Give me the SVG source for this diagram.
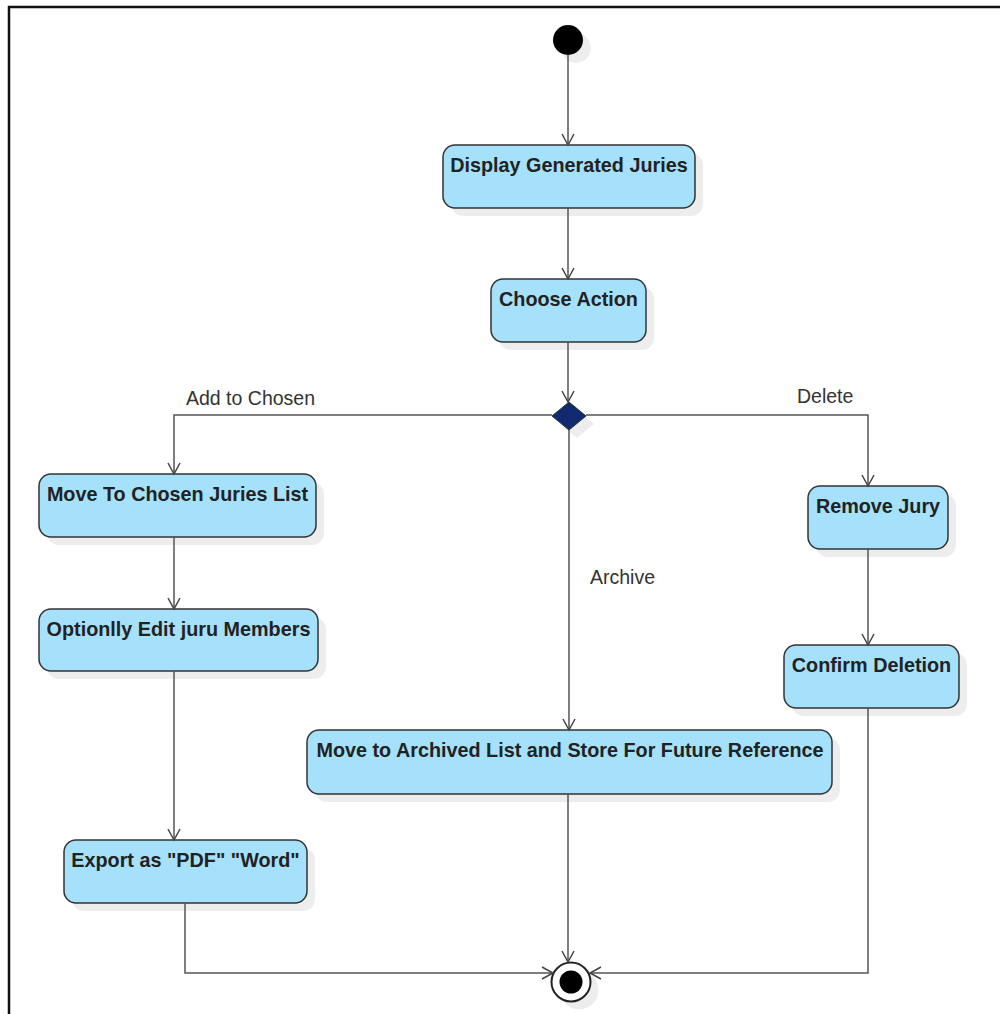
<svg xmlns="http://www.w3.org/2000/svg" width="1000" height="1014" viewBox="0 0 1000 1014">
<defs>
<style>
.box{fill:#a6e1fc;stroke:#333;stroke-width:1.5}
.sh{fill:#000;opacity:0.07}
.t{font-family:"Liberation Sans",Arial,sans-serif;font-size:19.8px;font-weight:bold;fill:#222;text-anchor:middle}
.lbl{font-family:"Liberation Sans",Arial,sans-serif;font-size:19.5px;fill:#333}
.c{fill:none;stroke:#555;stroke-width:1.5}
</style>
<marker id="arr" markerWidth="14" markerHeight="14" refX="12" refY="7" orient="auto" markerUnits="userSpaceOnUse">
<path d="M1,1 L12,7 L1,13" fill="none" stroke="#444" stroke-width="1.5"/>
</marker>
</defs>
<rect width="1000" height="1014" fill="#fff"/>
<path d="M9,1014 V7 H1000" fill="none" stroke="#111" stroke-width="2.5"/>

<g id="start">
<circle cx="576" cy="48" r="15" class="sh"/>
<circle cx="568" cy="40" r="15" fill="#000"/>
</g>

<g id="display">
<rect x="451" y="153" width="252" height="63" rx="12" class="sh"/>
<rect x="443" y="145" width="252" height="63" rx="12" class="box"/>
<text x="569" y="172" class="t">Display Generated Juries</text>
</g>

<g id="choose">
<rect x="499" y="287" width="155" height="63" rx="12" class="sh"/>
<rect x="491" y="279" width="155" height="63" rx="12" class="box"/>
<text x="568.5" y="306" class="t">Choose Action</text>
</g>

<g id="decision">
<path d="M577,410 L594,424 L577,438 L560,424 Z" class="sh"/>
<path d="M569,402 L586,416 L569,430 L552,416 Z" fill="#0f2a6e" stroke="#333" stroke-width="1"/>
</g>

<g id="moveChosen">
<rect x="47" y="482" width="277" height="63" rx="12" class="sh"/>
<rect x="39" y="474" width="277" height="63" rx="12" class="box"/>
<text x="177.5" y="501" class="t">Move To Chosen Juries List</text>
</g>

<g id="edit">
<rect x="47" y="617" width="279" height="62" rx="12" class="sh"/>
<rect x="39" y="609" width="279" height="62" rx="12" class="box"/>
<text x="178.5" y="636" class="t">Optionlly Edit juru Members</text>
</g>

<g id="export">
<rect x="72" y="848" width="243" height="63" rx="12" class="sh"/>
<rect x="64" y="840" width="243" height="63" rx="12" class="box"/>
<text x="185.5" y="867" class="t">Export as "PDF" "Word"</text>
</g>

<g id="remove">
<rect x="816" y="494" width="140" height="63" rx="12" class="sh"/>
<rect x="808" y="486" width="140" height="63" rx="12" class="box"/>
<text x="878" y="513" class="t">Remove Jury</text>
</g>

<g id="confirm">
<rect x="792" y="653" width="175" height="63" rx="12" class="sh"/>
<rect x="784" y="645" width="175" height="63" rx="12" class="box"/>
<text x="871.5" y="672" class="t">Confirm Deletion</text>
</g>

<g id="archive">
<rect x="315" y="738" width="525" height="64" rx="12" class="sh"/>
<rect x="307" y="730" width="525" height="64" rx="12" class="box"/>
<text x="570" y="757" class="t">Move to Archived List and Store For Future Reference</text>
</g>

<g id="end">
<circle cx="579" cy="990" r="19.5" class="sh"/>
<circle cx="571" cy="982" r="19.5" fill="#fff" stroke="#222" stroke-width="2"/>
<circle cx="571" cy="982" r="11.5" fill="#000"/>
</g>

<g id="connectors">
<path d="M568,55 V145" class="c" marker-end="url(#arr)"/>
<path d="M568,208 V279" class="c" marker-end="url(#arr)"/>
<path d="M568,342 V402" class="c" marker-end="url(#arr)"/>
<path d="M552,415 H174 V474" class="c" marker-end="url(#arr)"/>
<path d="M586,415 H868 V486" class="c" marker-end="url(#arr)"/>
<path d="M569,430 V730" class="c" marker-end="url(#arr)"/>
<path d="M174,537 V609" class="c" marker-end="url(#arr)"/>
<path d="M174,671 V840" class="c" marker-end="url(#arr)"/>
<path d="M868,549 V645" class="c" marker-end="url(#arr)"/>
<path d="M185,903 V973 H553" class="c" marker-end="url(#arr)"/>
<path d="M568,794 V962" class="c" marker-end="url(#arr)"/>
<path d="M868,708 V973 H590" class="c" marker-end="url(#arr)"/>
<text x="186" y="405" class="lbl">Add to Chosen</text>
<text x="797" y="403" class="lbl">Delete</text>
<text x="590" y="584" class="lbl">Archive</text>
</g>
</svg>
